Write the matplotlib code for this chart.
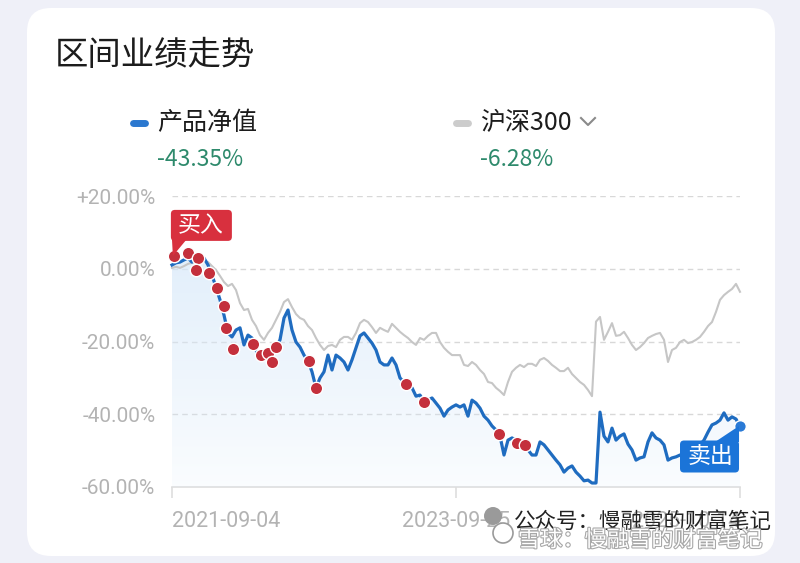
import numpy as np
import pandas as pd
import matplotlib
matplotlib.use('Agg')
import matplotlib.pyplot as plt
import matplotlib.dates as mdates
import matplotlib.patheffects as pe
from matplotlib.patches import FancyBboxPatch, Polygon, Circle
from matplotlib.lines import Line2D
from matplotlib.transforms import IdentityTransform

plt.rcParams['font.family'] = ['Noto Sans CJK SC', 'DejaVu Sans']

# ---- data (percent return since 2021-09-04) ----
start_date = '2021-09-04'
end_date = '2025-10-14'
tick_dates = ['2021-09-04', '2023-09-25', '2025-10-14']

nav_pct = [1.1, 1.7, 1.9, 2.5, 3.0, 1.9, 3.0, 3.9, 3.0, 1.1,
           -1.7, -5.0, -8.5, -12.7, -17.6, -18.7, -16.8, -16.2, -20.9, -18.2,
           -19.0, -22.3, -25.0, -22.8, -23.1, -23.7, -21.5, -19.5, -13.5, -11.3,
           -16.8, -20.1, -21.5, -23.7, -25.3, -28.3, -32.7, -30.0, -28.3, -23.7,
           -27.8, -23.7, -24.5, -25.6, -27.8, -25.0, -21.7, -18.4, -17.6, -19.0,
           -20.4, -22.3, -25.6, -26.4, -26.4, -24.5, -26.4, -30.0, -31.1, -32.2,
           -32.7, -35.0, -34.7, -36.6, -36.1, -35.5, -36.9, -38.3, -40.5, -38.8,
           -38.0, -37.4, -38.0, -37.4, -40.5, -36.1, -36.9, -38.3, -40.5, -41.6,
           -43.2, -44.3, -46.0, -51.2, -47.1, -46.5, -47.1, -48.2, -48.4, -49.8,
           -51.2, -51.2, -47.6, -48.4, -49.8, -51.2, -52.6, -53.9, -55.9, -54.8,
           -54.2, -55.9, -57.0, -58.3, -58.1, -58.9, -58.9, -39.4, -46.0, -47.6,
           -43.8, -47.1, -46.0, -45.4, -48.2, -49.8, -52.6, -52.0, -51.7, -47.6,
           -45.1, -46.5, -47.1, -48.4, -52.6, -52.0, -51.7, -51.2, -51.2, -50.4,
           -49.8, -49.3, -48.4, -47.1, -44.9, -42.9, -42.4, -41.6, -39.6, -41.6,
           -40.7, -41.3, -43.35]

hs300_pct = [0.3, 0.6, 0.3, 0.8, 1.4, 1.7, 1.9, 1.7, 2.2, 1.9,
             0.8, -0.3, -1.9, -3.6, -4.7, -4.1, -5.8, -9.4, -11.3, -11.0,
             -14.0, -15.7, -18.2, -19.5, -17.6, -16.2, -14.0, -11.8, -9.1, -8.3,
             -10.5, -12.4, -13.5, -14.0, -15.7, -16.8, -19.0, -20.9, -22.3, -21.2,
             -20.9, -21.5, -19.5, -18.7, -18.7, -19.5, -17.6, -14.9, -14.0, -14.6,
             -16.0, -17.6, -16.2, -16.8, -17.3, -15.1, -16.2, -17.3, -18.2, -19.0,
             -20.1, -20.9, -19.0, -19.5, -18.4, -17.6, -17.6, -20.1, -21.7, -22.8,
             -23.7, -23.7, -23.7, -26.4, -26.7, -25.6, -26.4, -27.8, -28.9, -31.1,
             -31.4, -32.7, -33.6, -34.7, -31.1, -28.3, -27.2, -26.4, -27.0, -26.1,
             -26.1, -26.7, -25.0, -24.5, -25.3, -26.4, -27.2, -28.1, -28.1, -27.2,
             -28.9, -30.0, -31.1, -31.9, -33.3, -35.0, -14.5, -13.2, -19.5, -17.3,
             -14.9, -18.4, -18.2, -17.3, -19.0, -20.9, -22.3, -21.5, -20.4, -19.0,
             -18.4, -17.9, -17.6, -19.5, -25.6, -22.3, -21.7, -20.1, -19.5, -20.4,
             -20.1, -19.5, -18.7, -17.3, -15.7, -14.6, -11.8, -8.5, -7.2, -6.3,
             -5.5, -4.1, -6.28]

trade_dates = ['2021-09-09', '2021-10-16', '2021-11-12', '2021-11-06', '2021-12-11',
               '2022-01-01', '2022-01-19', '2022-01-25', '2022-02-12', '2022-04-06',
               '2022-04-27', '2022-05-16', '2022-05-26', '2022-06-06', '2022-09-01',
               '2022-09-20', '2023-05-15', '2023-07-02', '2024-01-16', '2024-03-04',
               '2024-03-25']
trade_pct = [3.6, 4.4, 3.0, -0.3, -1.1,
             -5.2, -10.2, -16.2, -22.0, -20.6,
             -23.7, -23.1, -25.6, -21.5, -25.3,
             -32.7, -31.6, -36.6, -45.4, -47.9,
             -48.4]

nav_total = '-43.35%'
hs300_total = '-6.28%'

# ---- figure ----
W, H = 800, 563
fig = plt.figure(figsize=(8, 5.63), dpi=100)
fig.patch.set_facecolor('#eff0f8')
idt = IdentityTransform()

card = FancyBboxPatch((27, H - 556), 748, 548, boxstyle='round,pad=0,rounding_size=24',
                      transform=idt, facecolor='white', edgecolor='none', zorder=0)
fig.add_artist(card)

fig.text(55, H - 56, '区间业绩走势', transform=idt, fontsize=24, color='#1c1c1c',
         va='center', ha='left', fontweight='medium')

# legend
green = '#2e8a6c'
fig.add_artist(Line2D([133, 145], [H - 123, H - 123], transform=idt, color='#2b78cf',
                      lw=5, solid_capstyle='round'))
fig.text(157, H - 123, '产品净值', transform=idt, fontsize=18, color='#1c1c1c', va='center')
fig.text(157, H - 159, nav_total, transform=idt, fontsize=16.5, color=green, va='center')
fig.add_artist(Line2D([456, 468], [H - 123, H - 123], transform=idt, color='#cccccc',
                      lw=5, solid_capstyle='round'))
fig.text(480, H - 123, '沪深300', transform=idt, fontsize=18, color='#1c1c1c', va='center')
fig.add_artist(Line2D([581, 588, 595], [H - 118, H - 125, H - 118], transform=idt,
                      color='#8a8a8a', lw=1.5))
fig.text(480, H - 159, hs300_total, transform=idt, fontsize=16.5, color=green, va='center')

# axes
ax = fig.add_axes([172 / W, (H - 487) / H, 568 / W, (487 - 196.3) / H])
ax.set_facecolor('none')
dates = mdates.date2num(pd.date_range(start_date, end_date, periods=len(nav_pct)))
x0, x1 = mdates.date2num(pd.Timestamp(start_date)), mdates.date2num(pd.Timestamp(end_date))

# gradient fill under product line
grad = np.linspace(1, 0, 256)
rgba = np.zeros((256, 1, 4))
rgba[..., 0] = 0.84
rgba[..., 1] = 0.91
rgba[..., 2] = 0.98
rgba[..., 3] = (0.12 + 0.6 * grad)[:, None]
poly = ax.fill_between(dates, nav_pct, -60, color='none', lw=0)
im = ax.imshow(rgba, extent=[x0, x1, -60, 5], aspect='auto', origin='upper', zorder=1)
im.set_clip_path(poly.get_paths()[0], ax.transData)

ax.plot(dates, hs300_pct, color='#c6c6c6', lw=1.5, zorder=2, clip_on=False)
ax.plot(dates, nav_pct, color='#1f6cc0', lw=2.3, zorder=3, clip_on=False)

tdates = mdates.date2num(pd.to_datetime(trade_dates))
ax.scatter(tdates, trade_pct, s=80, color='#c4303c', edgecolor='white', linewidth=1.0,
           zorder=5, clip_on=False)

ax.set_xlim(x0, x1)
ax.set_ylim(-60, 20)

for v in [20, 0, -20, -40]:
    ax.axhline(v, color='#d8d8d8', lw=1, ls=(0, (4, 3)), zorder=0.5)
ax.axhline(-60, color='#dedede', lw=1.2, zorder=0.5, clip_on=False)

for s in ax.spines.values():
    s.set_visible(False)

ax.set_yticks([20, 0, -20, -40, -60])
ax.set_yticklabels(['+20.00%', '0.00%', '-20.00%', '-40.00%', '-60.00%'])
ax.tick_params(axis='y', length=0, pad=12, labelsize=15, labelcolor='#b3b3b3')
for t in ax.get_yticklabels():
    t.set_family(['Roboto', 'DejaVu Sans'])

ax.set_xticks(mdates.date2num(pd.to_datetime(tick_dates)))
ax.set_xticklabels(tick_dates)
ax.tick_params(axis='x', length=8, width=1.2, color='#dedede', pad=9, labelsize=15.5,
               labelcolor='#b3b3b3')
xl = ax.get_xticklabels()
for t, ha in zip(xl, ['left', 'center', 'right']):
    t.set_ha(ha)
    t.set_family(['Roboto', 'DejaVu Sans'])

# buy / sell tags
bx, by = ax.transData.transform((tdates[0], trade_pct[0]))
fig.add_artist(Polygon([(bx - 2, by + 18), (bx + 14, by + 18), (bx - 1, by)], closed=True,
                       transform=idt, facecolor='#d8303e', edgecolor='none', zorder=6))
fig.add_artist(FancyBboxPatch((bx - 3, by + 15), 61, 31, boxstyle='round,pad=0,rounding_size=4',
                              transform=idt, facecolor='#d8303e', edgecolor='none', zorder=6))
fig.text(bx + 27, by + 30, '买入', transform=idt, fontsize=16.5, color='white',
         ha='center', va='center', zorder=7)

sx, sy = ax.transData.transform((dates[-1], nav_pct[-1]))
fig.add_artist(Polygon([(sx - 25, sy - 16), (sx - 1, sy - 16), (sx - 1, sy)], closed=True,
                       transform=idt, facecolor='#1b74d8', edgecolor='none', zorder=6))
fig.add_artist(FancyBboxPatch((sx - 60, sy - 46), 59, 32, boxstyle='round,pad=0,rounding_size=4',
                              transform=idt, facecolor='#1b74d8', edgecolor='none', zorder=6))
fig.text(sx - 30, sy - 30, '卖出', transform=idt, fontsize=16.5, color='white',
         ha='center', va='center', zorder=7)
ax.scatter([dates[-1]], [nav_pct[-1]], s=70, color='#2a7ad6', edgecolor='white',
           linewidth=1.0, zorder=6, clip_on=False)

# watermark
fig.add_artist(Circle((493, H - 516), 9, transform=idt, facecolor='#9a9a9a',
                      edgecolor='none', zorder=8))
fig.add_artist(Circle((503, H - 533), 10, transform=idt, facecolor='white',
                      edgecolor='#9a9a9a', lw=1.2, zorder=8))
fig.text(514, H - 522, '公众号：慢融雪的财富笔记', transform=idt, fontsize=15.5,
         color='#222222', va='center', ha='left', zorder=9)
fig.text(518, H - 540, '雪球：慢融雪的财富笔记', transform=idt, fontsize=16,
         color='white', va='center', ha='left', zorder=9,
         path_effects=[pe.withStroke(linewidth=1.6, foreground='#a8a8a8')])

fig.savefig('out.png', dpi=100)
